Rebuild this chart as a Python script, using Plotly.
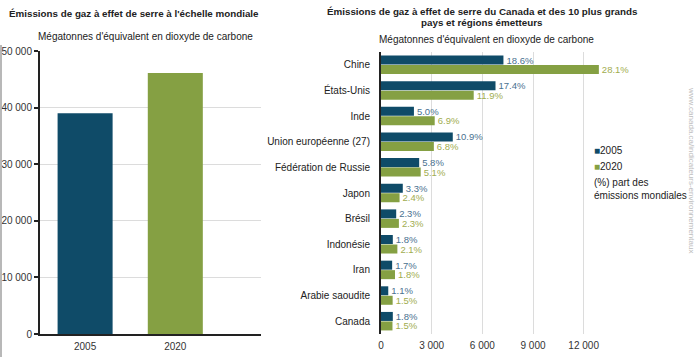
import plotly.graph_objects as go

# ---- data ----
world_years = ["2005", "2020"]
world_totals = [39000, 46100]

countries = ["Chine", "États-Unis", "Inde", "Union européenne (27)", "Fédération de Russie",
             "Japon", "Brésil", "Indonésie", "Iran", "Arabie saoudite", "Canada"]
emis_2005 = [7250, 6780, 1950, 4250, 2260, 1290, 900, 700, 660, 430, 700]
emis_2020 = [12900, 5490, 3180, 3130, 2350, 1100, 1060, 970, 830, 690, 680]
pct_2005 = ["18.6%", "17.4%", "5.0%", "10.9%", "5.8%", "3.3%", "2.3%", "1.8%", "1.7%", "1.1%", "1.8%"]
pct_2020 = ["28.1%", "11.9%", "6.9%", "6.8%", "5.1%", "2.4%", "2.3%", "2.1%", "1.8%", "1.5%", "1.5%"]

x_ticks_right = [0, 3000, 6000, 9000, 12000]
y_ticks_left = [0, 10000, 20000, 30000, 40000, 50000]

BLUE = "#0f4b68"
GREEN = "#85a043"
BLUE_TXT = "#4a7190"
GREEN_TXT = "#a1ad4f"
FONT = "Liberation Sans, Arial, sans-serif"
W, H = 700, 357

def px(x):
    return x / W

def py(y):
    return 1 - y / H

fig = go.Figure()

fig.add_trace(go.Bar(
    x=world_years, y=world_totals, marker=dict(color=[BLUE, GREEN], line=dict(width=0)),
    width=0.61, xaxis="x", yaxis="y", showlegend=False, hoverinfo="x+y"))

fig.add_trace(go.Bar(
    y=countries, x=emis_2005, orientation="h", name="2005",
    marker=dict(color=BLUE, line=dict(width=0)),
    text=pct_2005, textposition="outside", textfont=dict(color=BLUE_TXT, size=9.5),
    cliponaxis=False, constraintext="none",
    xaxis="x2", yaxis="y2", showlegend=False))
fig.add_trace(go.Bar(
    y=countries, x=emis_2020, orientation="h", name="2020",
    marker=dict(color=GREEN, line=dict(width=0)),
    text=pct_2020, textposition="outside", textfont=dict(color=GREEN_TXT, size=9.5),
    cliponaxis=False, constraintext="none",
    xaxis="x2", yaxis="y2", showlegend=False))

fig.update_layout(
    width=W, height=H, autosize=False,
    margin=dict(l=0, r=0, t=0, b=0),
    paper_bgcolor="white", plot_bgcolor="white",
    font=dict(family=FONT, size=10, color="#333333"),
    separators=". ",
    barmode="group", bargap=0.26, bargroupgap=0.05,
    xaxis=dict(domain=[px(40), px(261)], type="category", range=[-0.5, 1.95],
               showline=True, linecolor="#222222", linewidth=2,
               ticks="outside", ticklen=2, tickcolor="rgba(0,0,0,0)", showgrid=False,
               tickfont=dict(size=10, color="#333333"),
               anchor="y", fixedrange=True, automargin=False),
    yaxis=dict(domain=[py(334), py(51)], range=[0, 50000], tickvals=y_ticks_left,
               tickformat=",d", showline=True, linecolor="#222222", linewidth=2,
               ticks="outside", ticklen=4, tickcolor="#222222", tickwidth=1.5,
               showgrid=True, gridcolor="#dcdcdc", gridwidth=1, zeroline=False,
               tickfont=dict(size=10, color="#333333"), anchor="x", automargin=False),
    xaxis2=dict(domain=[px(381), px(609)], range=[0, 13500], tickvals=x_ticks_right,
                tickformat=",d", showline=False, showgrid=True, gridcolor="#dcdcdc",
                zeroline=False, ticks="outside", ticklen=2, tickcolor="rgba(0,0,0,0)",
                tickfont=dict(size=10, color="#333333"), anchor="y2", automargin=False),
    yaxis2=dict(domain=[py(334), py(52)], type="category", categoryorder="array",
                categoryarray=countries, autorange="reversed",
                showline=True, linecolor="#222222", linewidth=2,
                ticks="outside", ticklen=7, tickcolor="rgba(0,0,0,0)",
                tickfont=dict(size=10, color="#222222"), anchor="x2", automargin=False),
)

ann = []
def add_text(text, x, y, size=10, bold=False, color="#222222", xanchor="center", angle=0, align="center"):
    t = f"<b>{text}</b>" if bold else text
    ann.append(dict(text=t, x=px(x), y=py(y), xref="paper", yref="paper",
                    xanchor=xanchor, yanchor="middle", showarrow=False, textangle=angle,
                    align=align, font=dict(size=size, color=color, family=FONT)))

add_text("Émissions de gaz à effet de serre à l'échelle mondiale", 134, 14, size=9.8, bold=True)
add_text("Mégatonnes d'équivalent en dioxyde de carbone", 145, 37, size=10)
add_text("Émissions de gaz à effet de serre du Canada et des 10 plus grands", 482, 11, size=9.8, bold=True)
add_text("pays et régions émetteurs", 482, 23, size=9.8, bold=True)
add_text("Mégatonnes d'équivalent en dioxyde de carbone", 486, 39, size=10)
# legend
add_text(f"<span style='color:{BLUE}'>■</span>2005", 592, 150, size=10, xanchor="left")
add_text(f"<span style='color:{GREEN}'>■</span>2020", 592, 166, size=10, xanchor="left")
add_text("(%) part des<br>émissions mondiales", 592, 189, size=10, xanchor="left", align="left")
# source
add_text("www.canada.ca/indicateurs-environnementaux", 692, 170, size=8, color="#bdbdbd", angle=90)

fig.update_layout(annotations=ann,
                  shapes=[dict(type="line", xref="paper", yref="paper",
                               x0=px(1), x1=px(1), y0=py(45), y1=0,
                               line=dict(color="#a0a0a0", width=1.5))])

fig.write_html("out.html",
               config={"displayModeBar": False},
               post_script="document.body.style.margin='0';document.body.style.overflow='hidden';")
